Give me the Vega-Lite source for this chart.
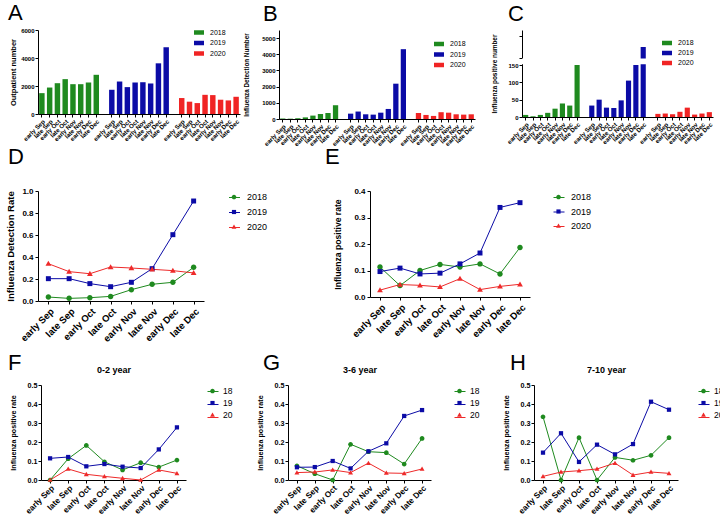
{
"$schema": "https://vega.github.io/schema/vega-lite/v6.json",
"padding": {"left": 5, "top": 1, "right": 0, "bottom": 0},
"background": "white",
"datasets": {
"bars": [
{"slot":"2018 early Sep","year":"2018","out":1490,"det":30,"pos":6},
{"slot":"2018 late Sep","year":"2018","out":1890,"det":20,"pos":2},
{"slot":"2018 early Oct","year":"2018","out":2200,"det":40,"pos":6},
{"slot":"2018 late Oct","year":"2018","out":2490,"det":100,"pos":12},
{"slot":"2018 early Nov","year":"2018","out":2130,"det":210,"pos":24},
{"slot":"2018 late Nov","year":"2018","out":2130,"det":310,"pos":39},
{"slot":"2018 early Dec","year":"2018","out":2250,"det":370,"pos":33},
{"slot":"2018 late Dec","year":"2018","out":2800,"det":850,"pos":150},
{"slot":"2019 early Sep","year":"2019","out":1730,"det":330,"pos":33},
{"slot":"2019 late Sep","year":"2019","out":2320,"det":460,"pos":50},
{"slot":"2019 early Oct","year":"2019","out":1920,"det":290,"pos":27},
{"slot":"2019 late Oct","year":"2019","out":2250,"det":270,"pos":26},
{"slot":"2019 early Nov","year":"2019","out":2270,"det":390,"pos":48},
{"slot":"2019 late Nov","year":"2019","out":2180,"det":620,"pos":105},
{"slot":"2019 early Dec","year":"2019","out":3620,"det":2180,"pos":150},
{"slot":"2019 late Dec","year":"2019","out":4760,"det":4310,"pos":202},
{"slot":"2020 early Sep","year":"2020","out":1140,"det":370,"pos":9},
{"slot":"2020 late Sep","year":"2020","out":880,"det":250,"pos":10},
{"slot":"2020 early Oct","year":"2020","out":780,"det":190,"pos":8},
{"slot":"2020 late Oct","year":"2020","out":1370,"det":420,"pos":15},
{"slot":"2020 early Nov","year":"2020","out":1350,"det":390,"pos":27},
{"slot":"2020 late Nov","year":"2020","out":1020,"det":290,"pos":7},
{"slot":"2020 early Dec","year":"2020","out":970,"det":270,"pos":10},
{"slot":"2020 late Dec","year":"2020","out":1230,"det":290,"pos":14}
],
"brk": [{"lo":152,"hi":169}],
"season": [
{"year":"2018","period":"early Sep","dr":0.036,"pr":0.113},
{"year":"2018","period":"late Sep","dr":0.024,"pr":0.043},
{"year":"2018","period":"early Oct","dr":0.030,"pr":0.100},
{"year":"2018","period":"late Oct","dr":0.042,"pr":0.123},
{"year":"2018","period":"early Nov","dr":0.103,"pr":0.113},
{"year":"2018","period":"late Nov","dr":0.152,"pr":0.125},
{"year":"2018","period":"early Dec","dr":0.170,"pr":0.087},
{"year":"2018","period":"late Dec","dr":0.306,"pr":0.187},
{"year":"2019","period":"early Sep","dr":0.203,"pr":0.096},
{"year":"2019","period":"late Sep","dr":0.203,"pr":0.109},
{"year":"2019","period":"early Oct","dr":0.158,"pr":0.087},
{"year":"2019","period":"late Oct","dr":0.130,"pr":0.090},
{"year":"2019","period":"early Nov","dr":0.170,"pr":0.125},
{"year":"2019","period":"late Nov","dr":0.294,"pr":0.166},
{"year":"2019","period":"early Dec","dr":0.603,"pr":0.338},
{"year":"2019","period":"late Dec","dr":0.909,"pr":0.356},
{"year":"2020","period":"early Sep","dr":0.339,"pr":0.026},
{"year":"2020","period":"late Sep","dr":0.267,"pr":0.047},
{"year":"2020","period":"early Oct","dr":0.248,"pr":0.044},
{"year":"2020","period":"late Oct","dr":0.309,"pr":0.038},
{"year":"2020","period":"early Nov","dr":0.300,"pr":0.069},
{"year":"2020","period":"late Nov","dr":0.288,"pr":0.028},
{"year":"2020","period":"early Dec","dr":0.276,"pr":0.040},
{"year":"2020","period":"late Dec","dr":0.255,"pr":0.048}
],
"age": [
{"year":"18","period":"early Sep","a02":0.000,"a36":0.075,"a710":0.333},
{"year":"18","period":"late Sep","a02":0.112,"a36":0.033,"a710":0.000},
{"year":"18","period":"early Oct","a02":0.182,"a36":0.000,"a710":0.223},
{"year":"18","period":"late Oct","a02":0.096,"a36":0.188,"a710":0.000},
{"year":"18","period":"early Nov","a02":0.053,"a36":0.149,"a710":0.119},
{"year":"18","period":"late Nov","a02":0.091,"a36":0.144,"a710":0.104},
{"year":"18","period":"early Dec","a02":0.068,"a36":0.084,"a710":0.130},
{"year":"18","period":"late Dec","a02":0.105,"a36":0.219,"a710":0.223},
{"year":"19","period":"early Sep","a02":0.114,"a36":0.067,"a710":0.144},
{"year":"19","period":"late Sep","a02":0.121,"a36":0.068,"a710":0.246},
{"year":"19","period":"early Oct","a02":0.072,"a36":0.100,"a710":0.095},
{"year":"19","period":"late Oct","a02":0.084,"a36":0.061,"a710":0.186},
{"year":"19","period":"early Nov","a02":0.070,"a36":0.151,"a710":0.135},
{"year":"19","period":"late Nov","a02":0.063,"a36":0.193,"a710":0.189},
{"year":"19","period":"early Dec","a02":0.161,"a36":0.337,"a710":0.412},
{"year":"19","period":"late Dec","a02":0.277,"a36":0.368,"a710":0.370},
{"year":"20","period":"early Sep","a02":0.000,"a36":0.039,"a710":0.019},
{"year":"20","period":"late Sep","a02":0.058,"a36":0.042,"a710":0.042},
{"year":"20","period":"early Oct","a02":0.030,"a36":0.053,"a710":0.049},
{"year":"20","period":"late Oct","a02":0.019,"a36":0.039,"a710":0.058},
{"year":"20","period":"early Nov","a02":0.009,"a36":0.089,"a710":0.089},
{"year":"20","period":"late Nov","a02":0.000,"a36":0.037,"a710":0.026},
{"year":"20","period":"early Dec","a02":0.053,"a36":0.035,"a710":0.042},
{"year":"20","period":"late Dec","a02":0.035,"a36":0.058,"a710":0.035}
]
},
"bounds": "flush",
"spacing": 161,
"resolve": {"scale": {"color": "independent", "shape": "independent", "fill": "independent", "stroke": "independent"}, "legend": {"color": "independent", "shape": "independent", "fill": "independent", "stroke": "independent"}},
"vconcat": [
{
"hconcat": [
{
"width": 202, "height": 84,
"title": {"text": "A", "dx": -30, "offset": 2},
"data": {"name": "bars"},
"mark": {"type": "bar"},
"encoding": {
"x": {"field": "slot", "type": "nominal", "sort": null,
"scale": {"type": "band", "domain": ["2018 early Sep","2018 late Sep","2018 early Oct","2018 late Oct","2018 early Nov","2018 late Nov","2018 early Dec","2018 late Dec","gap1","2019 early Sep","2019 late Sep","2019 early Oct","2019 late Oct","2019 early Nov","2019 late Nov","2019 early Dec","2019 late Dec","gap2","2020 early Sep","2020 late Sep","2020 early Oct","2020 late Oct","2020 early Nov","2020 late Nov","2020 early Dec","2020 late Dec"], "paddingInner": 0.3, "paddingOuter": 0.15},
"axis": {"values": ["2018 early Sep","2018 late Sep","2018 early Oct","2018 late Oct","2018 early Nov","2018 late Nov","2018 early Dec","2018 late Dec","2019 early Sep","2019 late Sep","2019 early Oct","2019 late Oct","2019 early Nov","2019 late Nov","2019 early Dec","2019 late Dec","2020 early Sep","2020 late Sep","2020 early Oct","2020 late Oct","2020 early Nov","2020 late Nov","2020 early Dec","2020 late Dec"], "labelExpr": "slice(datum.value, 5)", "labelAngle": -45, "labelFontSize": 6.2, "labelOverlap": false, "labelPadding": 1, "title": null}},
"y": {"field": "out", "type": "quantitative", "scale": {"domain": [0, 6000], "nice": false}, "axis": {"values": [0,2000,4000,6000], "format": "d", "title": "Outpatient number", "titleFontSize": 7.5, "labelFontSize": 6, "titlePadding": 3, "labelPadding": 1, "labelOverlap": false}},
"color": {"field": "year", "type": "nominal", "scale": {"domain": ["2018","2019","2020"], "range": ["#1f8a1f","#0b0ba6","#f02424"]}, "legend": {"title": null, "orient": "none", "legendX": 155, "legendY": -3.5, "symbolType": "M-1,-0.45H1V0.45H-1Z", "symbolSize": 100, "labelFontSize": 7, "labelOffset": 5, "rowPadding": 1.5}}
}
},
{"width": 39, "height": 1, "data": {"values": []}, "mark": "point"},
{
"width": 196, "height": 89,
"title": {"text": "B", "dx": -16, "offset": 4},
"data": {"name": "bars"},
"mark": {"type": "bar"},
"encoding": {
"x": {"field": "slot", "type": "nominal", "sort": null,
"scale": {"type": "band", "domain": ["2018 early Sep","2018 late Sep","2018 early Oct","2018 late Oct","2018 early Nov","2018 late Nov","2018 early Dec","2018 late Dec","gap1","2019 early Sep","2019 late Sep","2019 early Oct","2019 late Oct","2019 early Nov","2019 late Nov","2019 early Dec","2019 late Dec","gap2","2020 early Sep","2020 late Sep","2020 early Oct","2020 late Oct","2020 early Nov","2020 late Nov","2020 early Dec","2020 late Dec"], "paddingInner": 0.3, "paddingOuter": 0.15},
"axis": {"values": ["2018 early Sep","2018 late Sep","2018 early Oct","2018 late Oct","2018 early Nov","2018 late Nov","2018 early Dec","2018 late Dec","2019 early Sep","2019 late Sep","2019 early Oct","2019 late Oct","2019 early Nov","2019 late Nov","2019 early Dec","2019 late Dec","2020 early Sep","2020 late Sep","2020 early Oct","2020 late Oct","2020 early Nov","2020 late Nov","2020 early Dec","2020 late Dec"], "labelExpr": "slice(datum.value, 5)", "labelAngle": -45, "labelFontSize": 6.2, "labelOverlap": false, "labelPadding": 1, "title": null}},
"y": {"field": "det", "type": "quantitative", "scale": {"domain": [0, 5494], "nice": false}, "axis": {"values": [0,1000,2000,3000,4000,5000], "format": "d", "title": "Influenza Detection Number", "titleFontSize": 6.3, "labelFontSize": 6, "titlePadding": 12, "labelPadding": 1, "labelOverlap": false}},
"color": {"field": "year", "type": "nominal", "scale": {"domain": ["2018","2019","2020"], "range": ["#1f8a1f","#0b0ba6","#f02424"]}, "legend": {"title": null, "orient": "none", "legendX": 154, "legendY": 8, "symbolType": "M-1,-0.45H1V0.45H-1Z", "symbolSize": 100, "labelFontSize": 7, "labelOffset": 5, "rowPadding": 1.5}}
}
},
{"width": 47, "height": 1, "data": {"values": []}, "mark": "point"},
{
"width": 191, "height": 87,
"title": {"text": "C", "dx": -14, "offset": 4},
"layer": [
{
"data": {"name": "bars"},
"mark": {"type": "bar"},
"encoding": {
"x": {"field": "slot", "type": "nominal", "sort": null,
"scale": {"type": "band", "domain": ["2018 early Sep","2018 late Sep","2018 early Oct","2018 late Oct","2018 early Nov","2018 late Nov","2018 early Dec","2018 late Dec","gap1","2019 early Sep","2019 late Sep","2019 early Oct","2019 late Oct","2019 early Nov","2019 late Nov","2019 early Dec","2019 late Dec","gap2","2020 early Sep","2020 late Sep","2020 early Oct","2020 late Oct","2020 early Nov","2020 late Nov","2020 early Dec","2020 late Dec"], "paddingInner": 0.3, "paddingOuter": 0.15},
"axis": {"values": ["2018 early Sep","2018 late Sep","2018 early Oct","2018 late Oct","2018 early Nov","2018 late Nov","2018 early Dec","2018 late Dec","2019 early Sep","2019 late Sep","2019 early Oct","2019 late Oct","2019 early Nov","2019 late Nov","2019 early Dec","2019 late Dec","2020 early Sep","2020 late Sep","2020 early Oct","2020 late Oct","2020 early Nov","2020 late Nov","2020 early Dec","2020 late Dec"], "labelExpr": "slice(datum.value, 5)", "labelAngle": -45, "labelFontSize": 6.2, "labelOverlap": false, "labelPadding": 1, "title": null}},
"y": {"field": "pos", "type": "quantitative", "scale": {"domain": [0, 251], "nice": false}, "axis": {"values": [0,50,100,150,170,233], "format": "d", "labelExpr": "datum.value > 150 ? '' : datum.label", "title": "Influenza positive number", "titleFontSize": 6.4, "labelFontSize": 6, "titlePadding": 10, "labelPadding": 1, "labelOverlap": false}},
"color": {"field": "year", "type": "nominal", "scale": {"domain": ["2018","2019","2020"], "range": ["#1f8a1f","#0b0ba6","#f02424"]}, "legend": {"title": null, "orient": "none", "legendX": 139, "legendY": 7, "symbolType": "M-1,-0.45H1V0.45H-1Z", "symbolSize": 100, "labelFontSize": 7, "labelOffset": 5, "rowPadding": 1}}
}
},
{
"data": {"name": "brk"},
"mark": {"type": "rect", "color": "white"},
"encoding": {"y": {"field": "lo", "type": "quantitative", "axis": {"values": [0,50,100,150,170,233], "format": "d", "labelExpr": "datum.value > 150 ? '' : datum.label", "title": "Influenza positive number", "titleFontSize": 6.4, "labelFontSize": 6, "titlePadding": 10, "labelPadding": 1, "labelOverlap": false}}, "y2": {"field": "hi"}}
}
]
}
],
"spacing": 0,
"bounds": "flush",
"resolve": {"scale": {"color": "independent"}, "legend": {"color": "independent"}}
},
{
"bounds": "flush",
"spacing": 194,
"resolve": {"scale": {"shape": "independent", "fill": "independent", "stroke": "independent"}, "legend": {"shape": "independent", "fill": "independent", "stroke": "independent"}},
"vconcat": [
{
"hconcat": [
{
"width": 166, "height": 110,
"title": {"text": "D", "dx": -30, "offset": 18},
"data": {"name": "season"},
"encoding": {
"x": {"field": "period", "type": "ordinal", "scale": {"type": "point", "padding": 0.5, "domain": ["early Sep","late Sep","early Oct","late Oct","early Nov","late Nov","early Dec","late Dec"]}, "axis": {"title": null, "labelAngle": -45, "labelFontSize": 9.5, "labelPadding": 2, "labelOverlap": false}},
"y": {"field": "dr", "type": "quantitative", "scale": {"domain": [0, 1], "nice": false}, "axis": {"values": [0,0.2,0.4,0.6,0.8,1], "format": ".1f", "title": "Influenza Detection Rate", "titleFontSize": 9.5, "labelFontSize": 8, "titlePadding": 6, "labelPadding": 2, "labelOverlap": false}}
},
"layer": [
{"mark": {"type": "line", "strokeWidth": 1},
"encoding": {
"stroke": {"field": "year", "type": "nominal", "scale": {"domain": ["2018","2019","2020"], "range": ["#1f8a1f","#0b0ba6","#ee2a2a"]},
"legend": {"title": null, "orient": "none", "legendX": 190.5, "legendY": 0.5, "symbolType": "stroke", "symbolSize": 121, "symbolStrokeWidth": 1, "labelFontSize": 9, "labelOffset": 7.5, "rowPadding": 4, "labelExpr": "''"}}
}},
{"mark": {"type": "point", "filled": true, "size": 171, "opacity": 1},
"encoding": {
"fill": {"field": "year", "type": "nominal", "scale": {"range": ["#1f8a1f","#0b0ba6","#ee2a2a"]},
"legend": {"title": null, "orient": "none", "legendX": 190.5, "legendY": 0.5, "symbolSize": 121, "symbolStrokeWidth": 0, "labelFontSize": 9, "labelOffset": 7.5, "rowPadding": 4}},
"shape": {"field": "year", "type": "nominal", "scale": {"range": ["M0.42,0A0.42,0.42,0,1,1,-0.42,0A0.42,0.42,0,1,1,0.42,0Z", "M-0.38,-0.38H0.38V0.38H-0.38Z", "M0,-0.44L0.44,0.33H-0.44Z"]},
"legend": {"title": null, "orient": "none", "legendX": 190.5, "legendY": 0.5, "symbolSize": 121, "symbolStrokeWidth": 0, "labelFontSize": 9, "labelOffset": 7.5, "rowPadding": 4}}
}}
]
},
{"width": 166, "height": 1, "data": {"values": []}, "mark": "point"},
{
"width": 160, "height": 106,
"title": {"text": "E", "dx": -45, "offset": 18},
"data": {"name": "season"},
"encoding": {
"x": {"field": "period", "type": "ordinal", "scale": {"type": "point", "padding": 0.5, "domain": ["early Sep","late Sep","early Oct","late Oct","early Nov","late Nov","early Dec","late Dec"]}, "axis": {"title": null, "labelAngle": -45, "labelFontSize": 9.5, "labelPadding": 2, "labelOverlap": false}},
"y": {"field": "pr", "type": "quantitative", "scale": {"domain": [0, 0.4], "nice": false}, "axis": {"values": [0,0.1,0.2,0.3,0.4], "format": ".1f", "title": "Influenza positive rate", "titleFontSize": 8.6, "labelFontSize": 8, "titlePadding": 11, "labelPadding": 2, "labelOverlap": false}}
},
"layer": [
{"mark": {"type": "line", "strokeWidth": 1},
"encoding": {
"stroke": {"field": "year", "type": "nominal", "scale": {"domain": ["2018","2019","2020"], "range": ["#1f8a1f","#0b0ba6","#ee2a2a"]},
"legend": {"title": null, "orient": "none", "legendX": 183, "legendY": 0.5, "symbolType": "stroke", "symbolSize": 121, "symbolStrokeWidth": 1, "labelFontSize": 9, "labelOffset": 7, "rowPadding": 3.5, "labelExpr": "''"}}
}},
{"mark": {"type": "point", "filled": true, "size": 171, "opacity": 1},
"encoding": {
"fill": {"field": "year", "type": "nominal", "scale": {"range": ["#1f8a1f","#0b0ba6","#ee2a2a"]},
"legend": {"title": null, "orient": "none", "legendX": 183, "legendY": 0.5, "symbolSize": 121, "symbolStrokeWidth": 0, "labelFontSize": 9, "labelOffset": 7, "rowPadding": 3.5}},
"shape": {"field": "year", "type": "nominal", "scale": {"range": ["M0.42,0A0.42,0.42,0,1,1,-0.42,0A0.42,0.42,0,1,1,0.42,0Z", "M-0.38,-0.38H0.38V0.38H-0.38Z", "M0,-0.44L0.44,0.33H-0.44Z"]},
"legend": {"title": null, "orient": "none", "legendX": 183, "legendY": 0.5, "symbolSize": 121, "symbolStrokeWidth": 0, "labelFontSize": 9, "labelOffset": 7, "rowPadding": 3.5}}
}}
]
}
],
"spacing": 0,
"bounds": "flush",
"resolve": {"scale": {"shape": "independent", "fill": "independent", "stroke": "independent"}, "legend": {"shape": "independent", "fill": "independent", "stroke": "independent"}}
},
{
"hconcat": [
{"width": 3, "height": 1, "data": {"values": []}, "mark": "point"},
{
"width": 145, "height": 95,
"title": {"text": "F", "dx": -33, "offset": -10},
"data": {"name": "age"},
"resolve": {"axis": {"x": "independent"}},
"encoding": {
"y": {"field": "a02", "type": "quantitative", "scale": {"domain": [0, 0.5], "nice": false}, "axis": {"values": [0,0.1,0.2,0.3,0.4,0.5], "format": ".1f", "title": "Influenza positive rate", "titleFontSize": 7.2, "labelFontSize": 7.2, "titlePadding": 10, "labelPadding": 1, "labelOverlap": false}}
},
"layer": [
{"mark": {"type": "line", "strokeWidth": 1},
"encoding": {
"x": {"field": "period", "type": "ordinal", "scale": {"type": "point", "padding": 0.5, "domain": ["early Sep","late Sep","early Oct","late Oct","early Nov","late Nov","early Dec","late Dec"]}, "axis": {"title": null, "labelAngle": -45, "labelFontSize": 8.2, "labelPadding": 1, "labelOverlap": false}},
"stroke": {"field": "year", "type": "nominal", "scale": {"domain": ["18","19","20"], "range": ["#1f8a1f","#0b0ba6","#ee2a2a"]},
"legend": {"title": null, "orient": "none", "legendX": 166, "legendY": 0.5, "symbolType": "stroke", "symbolSize": 121, "symbolStrokeWidth": 1, "labelFontSize": 8.5, "labelOffset": 5, "rowPadding": 2, "labelExpr": "''"}}
}},
{"mark": {"type": "point", "filled": true, "size": 125, "opacity": 1},
"encoding": {
"x": {"field": "period", "type": "ordinal", "axis": null},
"fill": {"field": "year", "type": "nominal", "scale": {"range": ["#1f8a1f","#0b0ba6","#ee2a2a"]},
"legend": {"title": null, "orient": "none", "legendX": 166, "legendY": 0.5, "symbolSize": 121, "symbolStrokeWidth": 0, "labelFontSize": 8.5, "labelOffset": 5, "rowPadding": 2}},
"shape": {"field": "year", "type": "nominal", "scale": {"range": ["M0.42,0A0.42,0.42,0,1,1,-0.42,0A0.42,0.42,0,1,1,0.42,0Z", "M-0.38,-0.38H0.38V0.38H-0.38Z", "M0,-0.44L0.44,0.33H-0.44Z"]},
"legend": {"title": null, "orient": "none", "legendX": 166, "legendY": 0.5, "symbolSize": 121, "symbolStrokeWidth": 0, "labelFontSize": 8.5, "labelOffset": 5, "rowPadding": 2}}
}},
{"mark": {"type": "point", "opacity": 0},
"encoding": {
"x": {"field": "period", "type": "ordinal", "axis": {"orient": "top", "title": "0-2 year", "labels": false, "ticks": false, "domain": false, "titleFontSize": 9, "titlePadding": 11}}
}}
]
},
{"width": 102, "height": 1, "data": {"values": []}, "mark": "point"},
{
"width": 143, "height": 95,
"title": {"text": "G", "dx": -25, "offset": -10},
"data": {"name": "age"},
"resolve": {"axis": {"x": "independent"}},
"encoding": {
"y": {"field": "a36", "type": "quantitative", "scale": {"domain": [0, 0.5], "nice": false}, "axis": {"values": [0,0.1,0.2,0.3,0.4,0.5], "format": ".1f", "title": "Influenza positive rate", "titleFontSize": 7.2, "labelFontSize": 7.2, "titlePadding": 10, "labelPadding": 1, "labelOverlap": false}}
},
"layer": [
{"mark": {"type": "line", "strokeWidth": 1},
"encoding": {
"x": {"field": "period", "type": "ordinal", "scale": {"type": "point", "padding": 0.5, "domain": ["early Sep","late Sep","early Oct","late Oct","early Nov","late Nov","early Dec","late Dec"]}, "axis": {"title": null, "labelAngle": -45, "labelFontSize": 8.2, "labelPadding": 1, "labelOverlap": false}},
"stroke": {"field": "year", "type": "nominal", "scale": {"domain": ["18","19","20"], "range": ["#1f8a1f","#0b0ba6","#ee2a2a"]},
"legend": {"title": null, "orient": "none", "legendX": 166, "legendY": 0.5, "symbolType": "stroke", "symbolSize": 121, "symbolStrokeWidth": 1, "labelFontSize": 8.5, "labelOffset": 5, "rowPadding": 2, "labelExpr": "''"}}
}},
{"mark": {"type": "point", "filled": true, "size": 125, "opacity": 1},
"encoding": {
"x": {"field": "period", "type": "ordinal", "axis": null},
"fill": {"field": "year", "type": "nominal", "scale": {"range": ["#1f8a1f","#0b0ba6","#ee2a2a"]},
"legend": {"title": null, "orient": "none", "legendX": 166, "legendY": 0.5, "symbolSize": 121, "symbolStrokeWidth": 0, "labelFontSize": 8.5, "labelOffset": 5, "rowPadding": 2}},
"shape": {"field": "year", "type": "nominal", "scale": {"range": ["M0.42,0A0.42,0.42,0,1,1,-0.42,0A0.42,0.42,0,1,1,0.42,0Z", "M-0.38,-0.38H0.38V0.38H-0.38Z", "M0,-0.44L0.44,0.33H-0.44Z"]},
"legend": {"title": null, "orient": "none", "legendX": 166, "legendY": 0.5, "symbolSize": 121, "symbolStrokeWidth": 0, "labelFontSize": 8.5, "labelOffset": 5, "rowPadding": 2}}
}},
{"mark": {"type": "point", "opacity": 0},
"encoding": {
"x": {"field": "period", "type": "ordinal", "axis": {"orient": "top", "title": "3-6 year", "labels": false, "ticks": false, "domain": false, "titleFontSize": 9, "titlePadding": 11}}
}}
]
},
{"width": 103, "height": 1, "data": {"values": []}, "mark": "point"},
{
"width": 144, "height": 95,
"title": {"text": "H", "dx": -24, "offset": -10},
"data": {"name": "age"},
"resolve": {"axis": {"x": "independent"}},
"encoding": {
"y": {"field": "a710", "type": "quantitative", "scale": {"domain": [0, 0.5], "nice": false}, "axis": {"values": [0,0.1,0.2,0.3,0.4,0.5], "format": ".1f", "title": "Influenza positive rate", "titleFontSize": 7.2, "labelFontSize": 7.2, "titlePadding": 10, "labelPadding": 1, "labelOverlap": false}}
},
"layer": [
{"mark": {"type": "line", "strokeWidth": 1},
"encoding": {
"x": {"field": "period", "type": "ordinal", "scale": {"type": "point", "padding": 0.5, "domain": ["early Sep","late Sep","early Oct","late Oct","early Nov","late Nov","early Dec","late Dec"]}, "axis": {"title": null, "labelAngle": -45, "labelFontSize": 8.2, "labelPadding": 1, "labelOverlap": false}},
"stroke": {"field": "year", "type": "nominal", "scale": {"domain": ["18","19","20"], "range": ["#1f8a1f","#0b0ba6","#ee2a2a"]},
"legend": {"title": null, "orient": "none", "legendX": 164, "legendY": 0.5, "symbolType": "stroke", "symbolSize": 121, "symbolStrokeWidth": 1, "labelFontSize": 8.5, "labelOffset": 5, "rowPadding": 2, "labelExpr": "''"}}
}},
{"mark": {"type": "point", "filled": true, "size": 125, "opacity": 1},
"encoding": {
"x": {"field": "period", "type": "ordinal", "axis": null},
"fill": {"field": "year", "type": "nominal", "scale": {"range": ["#1f8a1f","#0b0ba6","#ee2a2a"]},
"legend": {"title": null, "orient": "none", "legendX": 164, "legendY": 0.5, "symbolSize": 121, "symbolStrokeWidth": 0, "labelFontSize": 8.5, "labelOffset": 5, "rowPadding": 2}},
"shape": {"field": "year", "type": "nominal", "scale": {"range": ["M0.42,0A0.42,0.42,0,1,1,-0.42,0A0.42,0.42,0,1,1,0.42,0Z", "M-0.38,-0.38H0.38V0.38H-0.38Z", "M0,-0.44L0.44,0.33H-0.44Z"]},
"legend": {"title": null, "orient": "none", "legendX": 164, "legendY": 0.5, "symbolSize": 121, "symbolStrokeWidth": 0, "labelFontSize": 8.5, "labelOffset": 5, "rowPadding": 2}}
}},
{"mark": {"type": "point", "opacity": 0},
"encoding": {
"x": {"field": "period", "type": "ordinal", "axis": {"orient": "top", "title": "7-10 year", "labels": false, "ticks": false, "domain": false, "titleFontSize": 9, "titlePadding": 11}}
}}
]
}
],
"spacing": 0,
"bounds": "flush",
"resolve": {"scale": {"shape": "independent", "fill": "independent", "stroke": "independent"}, "legend": {"shape": "independent", "fill": "independent", "stroke": "independent"}}
}
]
}
],
"config": {
"font": "Liberation Sans",
"view": {"stroke": null},
"axis": {"domainColor": "black", "tickColor": "black", "labelColor": "black", "titleColor": "black", "grid": false, "labelFont": "Liberation Sans", "titleFont": "Liberation Sans", "labelFontWeight": "bold", "titleFontWeight": "bold", "tickSize": 3, "domainWidth": 1, "tickWidth": 1},
"legend": {"labelFont": "Liberation Sans", "labelColor": "black"},
"title": {"font": "Liberation Sans", "fontWeight": "normal", "fontSize": 22, "anchor": "start", "frame": "group", "color": "black"}
}
}
